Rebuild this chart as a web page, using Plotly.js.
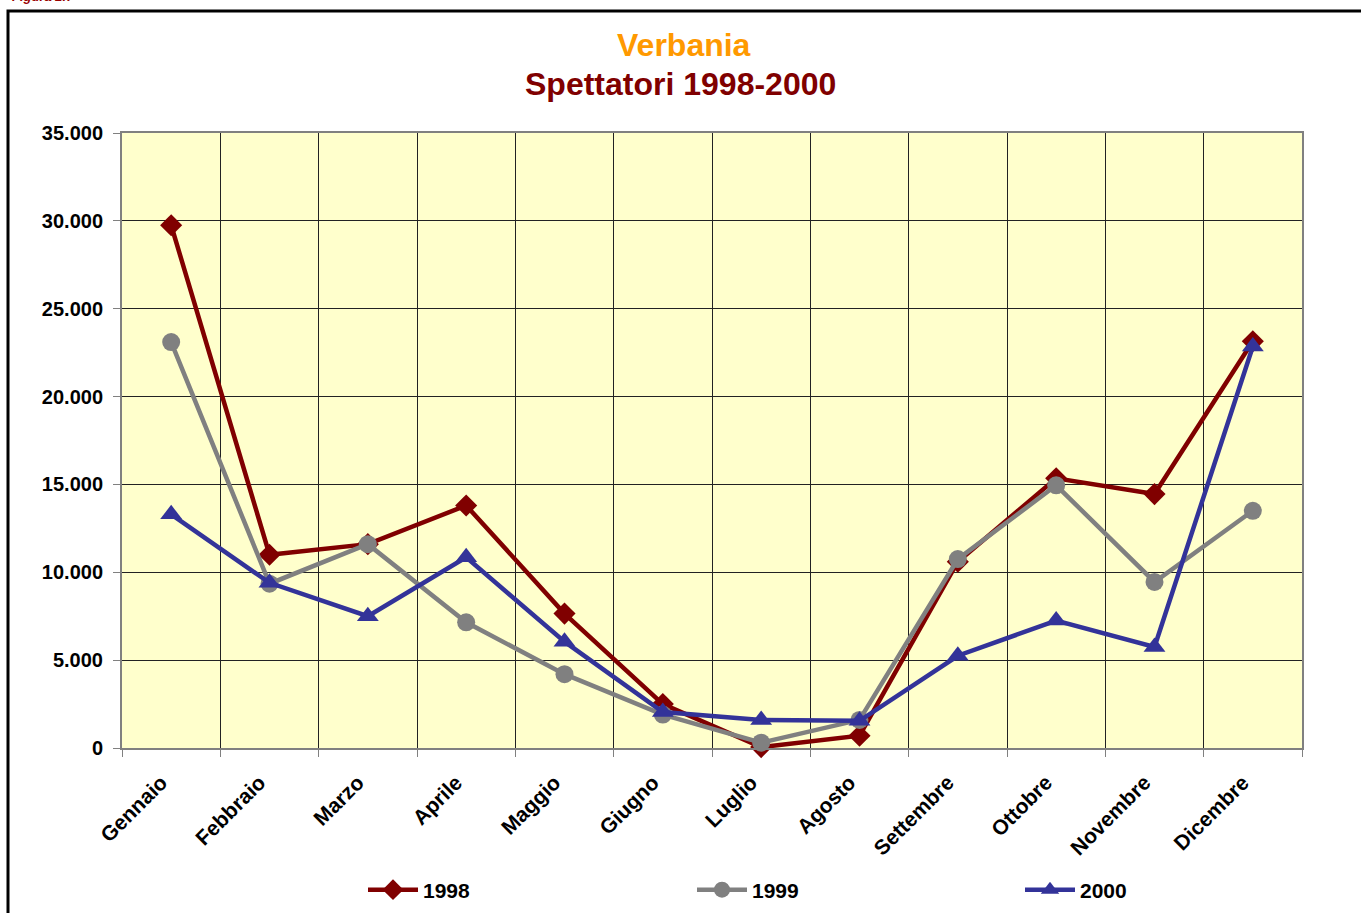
<!DOCTYPE html>
<html>
<head>
<meta charset="utf-8">
<script src="https://cdn.plot.ly/plotly-3.0.1.min.js"></script>
<style>html,body{margin:0;padding:0;background:#fff;}#chart{width:1361px;height:913px;}</style>
</head>
<body>
<div id="chart"></div>
<script>
const months = ["Gennaio","Febbraio","Marzo","Aprile","Maggio","Giugno","Luglio","Agosto","Settembre","Ottobre","Novembre","Dicembre"];
const spett1998 = [29750, 11000, 11600, 13800, 7650, 2500, 50, 700, 10600, 15350, 14450, 23150];
const spett1999 = [23100, 9350, 11600, 7150, 4200, 1900, 300, 1600, 10750, 14950, 9450, 13500];
const spett2000 = [13300, 9400, 7500, 10850, 6050, 2050, 1600, 1550, 5250, 7250, 5750, 22850];
const yTicks = [0, 5000, 10000, 15000, 20000, 25000, 30000, 35000];

const FONT = "Liberation Sans, Arial, sans-serif";
const L = 122, R = 1302, T = 133, B = 748;
const px = x => (x - L) / (R - L);
const py = y => (B - y) / (B - T);

const series = [
  {name: "1998", y: spett1998, color: "#800000", symbol: "diamond", size: 17, legend: "legend", lx: 363},
  {name: "1999", y: spett1999, color: "#808080", symbol: "circle", size: 18, legend: "legend2", lx: 692},
  {name: "2000", y: spett2000, color: "#333399", symbol: "triangle-up", size: 19, legend: "legend3", lx: 1020}
];
const traces = series.map(s => ({
  type: "scatter", mode: "lines+markers", name: s.name, x: months, y: s.y,
  legend: s.legend,
  line: {color: s.color, width: 4.5},
  marker: {color: s.color, symbol: s.symbol, size: s.size, line: {width: 0}},
  cliponaxis: false
}));

const legendBase = lx => ({
  orientation: "h", x: px(lx), xanchor: "left", y: py(890), yanchor: "middle",
  itemwidth: 50,
  font: {family: FONT, size: 21, weight: "bold", color: "#000"},
  bgcolor: "rgba(0,0,0,0)"
});

const tickFont = {family: FONT, size: 21, weight: "bold", color: "#000"};

const layout = {
  width: 1361, height: 913,
  margin: {l: L, r: 1361 - R, t: T, b: 913 - B, autoexpand: false},
  paper_bgcolor: "#ffffff",
  plot_bgcolor: "#FFFFCC",
  separators: ",.",
  font: {family: FONT, color: "#000"},
  showlegend: true,
  xaxis: {
    type: "category", range: [-0.5, 11.5], tickson: "boundaries",
    showgrid: true, gridcolor: "#222", gridwidth: 1,
    showline: true, linecolor: "#808080", linewidth: 2, mirror: true,
    ticks: "outside", ticklen: 7, tickcolor: "#808080", tickwidth: 1,
    tickangle: -45, tickfont: tickFont, ticklabelshift: -10, ticklabelstandoff: 12,
    zeroline: false, fixedrange: true
  },
  yaxis: {
    range: [0, 35000], tickvals: yTicks, tickformat: ",d",
    showgrid: true, gridcolor: "#222", gridwidth: 1,
    showline: true, linecolor: "#808080", linewidth: 2, mirror: true,
    ticks: "outside", ticklen: 7, tickcolor: "#808080", tickwidth: 1,
    tickfont: {family: FONT, size: 20, weight: "bold", color: "#000"}, ticklabelstandoff: 6,
    zeroline: false, fixedrange: true
  },
  legend: legendBase(series[0].lx),
  legend2: legendBase(series[1].lx),
  legend3: legendBase(series[2].lx),
  annotations: [
    {xref: "paper", yref: "paper", x: px(684), y: py(45), xanchor: "center", yanchor: "middle",
     text: "Verbania", showarrow: false, font: {family: FONT, size: 32, weight: "bold", color: "#FF9900"}},
    {xref: "paper", yref: "paper", x: px(680), y: py(84), xanchor: "center", yanchor: "middle",
     text: "Spettatori 1998-2000", showarrow: false, font: {family: FONT, size: 32, weight: "bold", color: "#800000"}},
    {xref: "paper", yref: "paper", x: px(10), y: py(6), xanchor: "left", yanchor: "bottom",
     text: "<i>Figura 2.7</i>", showarrow: false, font: {family: FONT, size: 13, weight: "bold", color: "#990000"}}
  ],
  shapes: [
    {type: "rect", xref: "paper", yref: "paper", x0: px(8), x1: px(1380), y0: py(11), y1: py(940),
     line: {color: "#000", width: 3}, fillcolor: "rgba(0,0,0,0)", layer: "below"}
  ]
};

Plotly.newPlot("chart", traces, layout, {displayModeBar: false, staticPlot: true});
</script>
</body>
</html>
